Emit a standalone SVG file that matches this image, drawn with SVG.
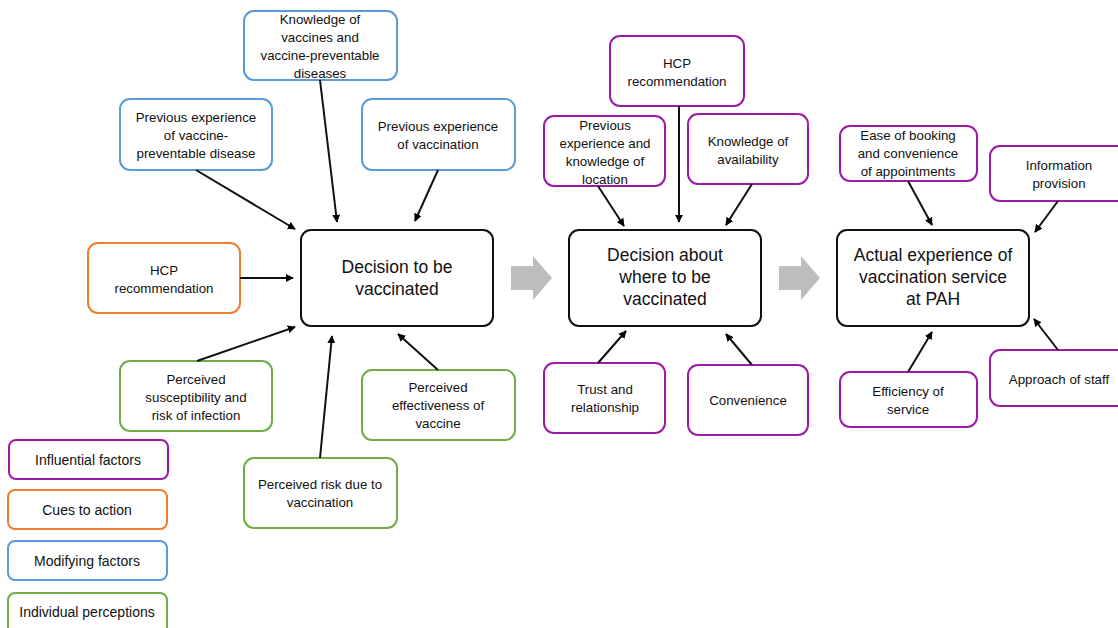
<svg xmlns="http://www.w3.org/2000/svg" width="1118" height="628" viewBox="0 0 1118 628">
<defs>
<marker id="ah" viewBox="0 0 10 10" refX="9" refY="5" markerWidth="8" markerHeight="8" markerUnits="userSpaceOnUse" orient="auto"><path d="M0,0 L10,5 L0,10 z" fill="#000"/></marker>
<style>
text{font-family:"Liberation Sans",Arial,sans-serif;font-size:13.3px;fill:#111;text-anchor:middle}
.big{font-size:17.5px}
.lg{font-size:14px}
rect{fill:#fff;stroke-width:2}
.bl{stroke:#5B9BD5}.or{stroke:#ED7D31}.gr{stroke:#70AD47}.pu{stroke:#9C1BA6}.bk{stroke:#111}
.c line{stroke:#111;stroke-width:2;marker-end:url(#ah)}
.ga{fill:#BDBDBD}
</style>
</defs>
<rect x="0" y="0" width="1118" height="628" style="fill:#fff;stroke:none"/>

<g id="knowledge"><rect class="bl" x="244" y="11" width="153" height="69" rx="10"/><text x="320" y="24">Knowledge of</text><text x="320" y="42">vaccines and</text><text x="320" y="60">vaccine-preventable</text><text x="320" y="78">diseases</text></g>
<g id="prev-disease"><rect class="bl" x="120" y="99" width="152" height="71" rx="10"/><text x="196" y="122">Previous experience</text><text x="196" y="140">of vaccine-</text><text x="196" y="158">preventable disease</text></g>
<g id="prev-vacc"><rect class="bl" x="362" y="99" width="153" height="71" rx="10"/><text x="438" y="131">Previous experience</text><text x="438" y="149">of vaccination</text></g>
<g id="hcp1"><rect class="or" x="88" y="243" width="152" height="70" rx="10"/><text x="164" y="275">HCP</text><text x="164" y="293">recommendation</text></g>
<g id="decision1"><rect class="bk" x="301" y="230" width="192" height="96" rx="10"/><text class="big" x="397" y="273">Decision to be</text><text class="big" x="397" y="295">vaccinated</text></g>
<g id="suscept"><rect class="gr" x="120" y="361" width="152" height="70" rx="10"/><text x="196" y="384">Perceived</text><text x="196" y="402">susceptibility and</text><text x="196" y="420">risk of infection</text></g>
<g id="effect"><rect class="gr" x="362" y="370" width="153" height="70" rx="10"/><text x="438" y="392">Perceived</text><text x="438" y="410">effectiveness of</text><text x="438" y="428">vaccine</text></g>
<g id="risk"><rect class="gr" x="244" y="458" width="153" height="70" rx="10"/><text x="320" y="489">Perceived risk due to</text><text x="320" y="507">vaccination</text></g>

<g id="legend-influential"><rect class="pu" x="9" y="440" width="159" height="39" rx="7"/><text class="lg" x="88" y="465">Influential factors</text></g>
<g id="legend-cues"><rect class="or" x="8" y="490" width="159" height="39" rx="7"/><text class="lg" x="87" y="515">Cues to action</text></g>
<g id="legend-modifying"><rect class="bl" x="8" y="541" width="159" height="39" rx="7"/><text class="lg" x="87" y="566">Modifying factors</text></g>
<g id="legend-individual"><rect class="gr" x="8" y="593" width="159" height="42" rx="7"/><text class="lg" x="87" y="617">Individual perceptions</text></g>

<g id="hcp2"><rect class="pu" x="610" y="36" width="134" height="70" rx="10"/><text x="677" y="68">HCP</text><text x="677" y="86">recommendation</text></g>
<g id="prev-loc"><rect class="pu" x="544" y="116" width="121" height="70" rx="10"/><text x="605" y="130">Previous</text><text x="605" y="148">experience and</text><text x="605" y="166">knowledge of</text><text x="605" y="184">location</text></g>
<g id="avail"><rect class="pu" x="688" y="114" width="120" height="70" rx="10"/><text x="748" y="146">Knowledge of</text><text x="748" y="164">availability</text></g>
<g id="decision2"><rect class="bk" x="569" y="230" width="192" height="96" rx="10"/><text class="big" x="665" y="261">Decision about</text><text class="big" x="665" y="283">where to be</text><text class="big" x="665" y="305">vaccinated</text></g>
<g id="trust"><rect class="pu" x="544" y="363" width="121" height="70" rx="10"/><text x="605" y="394">Trust and</text><text x="605" y="412">relationship</text></g>
<g id="conv"><rect class="pu" x="688" y="365" width="120" height="70" rx="10"/><text x="748" y="405">Convenience</text></g>

<g id="ease"><rect class="pu" x="840" y="126" width="137" height="55" rx="10"/><text x="908" y="140">Ease of booking</text><text x="908" y="158">and convenience</text><text x="908" y="176">of appointments</text></g>
<g id="info"><rect class="pu" x="990" y="146" width="140" height="55" rx="10"/><text x="1059" y="170">Information</text><text x="1059" y="188">provision</text></g>
<g id="actual"><rect class="bk" x="837" y="230" width="192" height="96" rx="10"/><text class="big" x="933" y="261">Actual experience of</text><text class="big" x="933" y="283">vaccination service</text><text class="big" x="933" y="305">at PAH</text></g>
<g id="effic"><rect class="pu" x="840" y="372" width="137" height="55" rx="10"/><text x="908" y="396">Efficiency of</text><text x="908" y="414">service</text></g>
<g id="staff"><rect class="pu" x="990" y="350" width="140" height="56" rx="10"/><text x="1059" y="384">Approach of staff</text></g>

<g id="flow-arrows">
<path class="ga" d="M511,266 H533 V256 L552,278 L533,300 V290 H511 z"/>
<path class="ga" d="M779,266 H801 V256 L820,278 L801,300 V290 H779 z"/>
</g>

<g id="connectors" class="c">
<line x1="196" y1="170" x2="295" y2="229"/>
<line x1="320" y1="80" x2="337" y2="222"/>
<line x1="438" y1="170" x2="415" y2="221"/>
<line x1="240" y1="278" x2="293" y2="278"/>
<line x1="197" y1="361" x2="295" y2="327"/>
<line x1="320" y1="458" x2="332" y2="336"/>
<line x1="438" y1="370" x2="398" y2="334"/>
<line x1="598" y1="186" x2="624" y2="226"/>
<line x1="679" y1="106" x2="679" y2="222"/>
<line x1="752" y1="184" x2="726" y2="225"/>
<line x1="598" y1="363" x2="626" y2="331"/>
<line x1="752" y1="365" x2="726" y2="334"/>
<line x1="908" y1="181" x2="932" y2="225"/>
<line x1="1058" y1="201" x2="1035" y2="232"/>
<line x1="908" y1="372" x2="932" y2="332"/>
<line x1="1058" y1="350" x2="1034" y2="319"/>
</g>
</svg>
